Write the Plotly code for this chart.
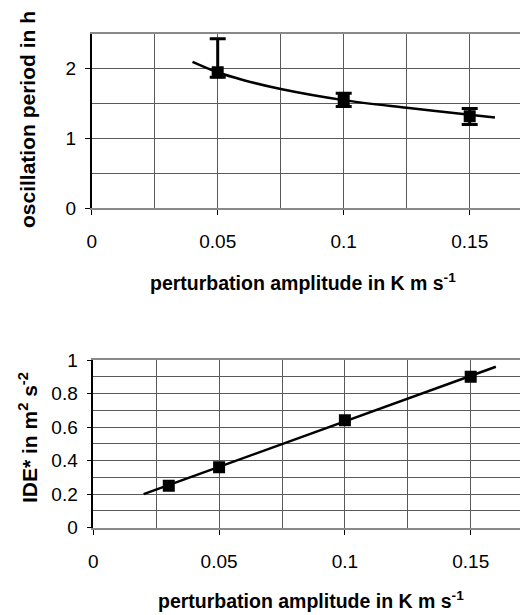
import plotly.graph_objects as go

# Top panel: oscillation period vs perturbation amplitude
amp_top = [0.05, 0.10, 0.15]
period = [1.95, 1.55, 1.32]
period_err_plus = [0.48, 0.10, 0.11]
period_err_minus = [0.07, 0.09, 0.12]
fit_top_x = [0.04, 0.05, 0.06, 0.075, 0.10, 0.125, 0.15, 0.16]
fit_top_y = [2.10, 1.95, 1.84, 1.71, 1.55, 1.44, 1.34, 1.30]

# Bottom panel: IDE* vs perturbation amplitude
amp_bot = [0.03, 0.05, 0.10, 0.15]
ide = [0.25, 0.36, 0.64, 0.90]
fit_bot_x = [0.02, 0.16]
fit_bot_y = [0.20, 0.96]

# page body has an 8px margin; figure is sized to fill the rest of the window
OFF = 8
W, H = 528 - OFF, 615 - OFF
font_family = "Liberation Sans, Arial, sans-serif"

def px(x):
    return (x - OFF) / W

def py(y):
    return 1 - (y - OFF) / H

fig = go.Figure()
fig.add_trace(go.Scatter(x=fit_top_x, y=fit_top_y, mode="lines", line=dict(color="black", width=2.5, shape="spline"),
                         xaxis="x", yaxis="y", showlegend=False))
fig.add_trace(go.Scatter(x=amp_top, y=period, mode="markers",
                         marker=dict(symbol="square", size=12, color="black"),
                         error_y=dict(type="data", symmetric=False, array=period_err_plus, arrayminus=period_err_minus,
                                      color="black", thickness=3, width=8),
                         xaxis="x", yaxis="y", showlegend=False))
fig.add_trace(go.Scatter(x=fit_bot_x, y=fit_bot_y, mode="lines", line=dict(color="black", width=2.5),
                         xaxis="x2", yaxis="y2", showlegend=False))
fig.add_trace(go.Scatter(x=amp_bot, y=ide, mode="markers",
                         marker=dict(symbol="square", size=12, color="black"),
                         xaxis="x2", yaxis="y2", showlegend=False))

tickfont = dict(family=font_family, size=19, color="black")
grid_col = "#5a5a5a"

def xaxis(domain, anchor, rng):
    return dict(domain=domain, anchor=anchor, range=rng, dtick=0.05, tick0=0,
                showgrid=True, gridcolor=grid_col, gridwidth=1,
                minor=dict(dtick=0.025, showgrid=True, gridcolor=grid_col, gridwidth=1),
                showline=True, linecolor="#8a8a8a", linewidth=2, mirror=True,
                ticks="outside", ticklen=5, tickcolor="black", tickfont=tickfont,
                ticklabelstandoff=10, zeroline=False, fixedrange=True, automargin=False)

def yaxis(domain, anchor, rng, dtick, minor):
    return dict(domain=domain, anchor=anchor, range=rng, dtick=dtick, tick0=0,
                showgrid=True, gridcolor=grid_col, gridwidth=1,
                minor=dict(dtick=minor, showgrid=True, gridcolor=grid_col, gridwidth=1),
                showline=True, linecolor="black", linewidth=1.5,
                ticks="outside", ticklen=5, tickcolor="black", tickfont=tickfont,
                ticklabelstandoff=5, zeroline=False, fixedrange=True, automargin=False)

fig.update_layout(
    template="none",
    width=W, height=H, autosize=False,
    margin=dict(l=0, r=0, t=0, b=0, pad=0, autoexpand=False),
    plot_bgcolor="white", paper_bgcolor="white",
    xaxis=xaxis([px(91.7), 1], "y", [0, (528 - 91.7) / 2520]),
    yaxis=yaxis([py(208), py(34)], "x", [0, 2.5], 1, 0.5),
    xaxis2=xaxis([px(93.3), 1], "y2", [0, (528 - 93.3) / 2516]),
    yaxis2=yaxis([py(527.7), py(360)], "x2", [0, 1], 0.2, 0.1),
)

xtitlefont = dict(family=font_family, size=19.5, color="black")
ytitlefont = dict(family=font_family, size=21, color="black")
ann = [
    dict(text="perturbation amplitude in K m s<sup>-1</sup>", x=303, y=282, f=xtitlefont),
    dict(text="perturbation amplitude in K m s<sup>-1</sup>", x=311, y=600, f=xtitlefont),
    dict(text="oscillation period in h", x=28, y=120, textangle=-90, f=ytitlefont),
    dict(text="IDE* in m<sup>2</sup> s<sup>-2</sup>", x=28, y=438, textangle=-90, f=ytitlefont),
]
for a in ann:
    fig.add_annotation(text="<b>" + a["text"] + "</b>", x=px(a["x"]), y=py(a["y"]), xref="paper", yref="paper",
                       showarrow=False, textangle=a.get("textangle", 0), font=a["f"],
                       xanchor="center", yanchor="middle")

fig.write_html("out.html")
